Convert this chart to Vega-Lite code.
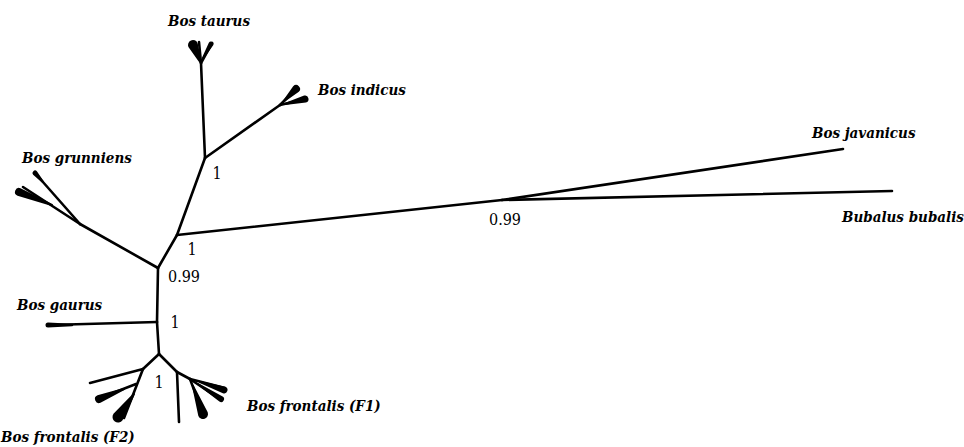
{
  "$schema": "https://vega.github.io/schema/vega-lite/v6.json",
  "width": 964,
  "height": 447,
  "autosize": {"type": "fit", "contains": "padding"},
  "padding": 0,
  "background": "white",
  "config": {"view": {"stroke": null}},
  "datasets": {
    "branches": [
      {"x": 205, "y": 158, "x2": 201, "y2": 63},
      {"x": 205, "y": 158, "x2": 280, "y2": 105},
      {"x": 177, "y": 235, "x2": 205, "y2": 158},
      {"x": 177, "y": 235, "x2": 502, "y2": 200},
      {"x": 502, "y": 200, "x2": 843, "y2": 149},
      {"x": 502, "y": 200, "x2": 892, "y2": 191},
      {"x": 158, "y": 268, "x2": 177, "y2": 235},
      {"x": 158, "y": 268, "x2": 80, "y2": 224},
      {"x": 80, "y": 224, "x2": 35, "y2": 173},
      {"x": 80, "y": 224, "x2": 23, "y2": 187},
      {"x": 158, "y": 268, "x2": 157, "y2": 322},
      {"x": 157, "y": 322, "x2": 50, "y2": 325},
      {"x": 157, "y": 322, "x2": 159, "y2": 354},
      {"x": 159, "y": 354, "x2": 143, "y2": 369},
      {"x": 143, "y": 369, "x2": 90, "y2": 383},
      {"x": 143, "y": 369, "x2": 124, "y2": 418},
      {"x": 136, "y": 384, "x2": 100, "y2": 398},
      {"x": 159, "y": 354, "x2": 177, "y2": 372},
      {"x": 177, "y": 372, "x2": 179, "y2": 422},
      {"x": 177, "y": 372, "x2": 190, "y2": 379},
      {"x": 190, "y": 379, "x2": 225, "y2": 388},
      {"x": 190, "y": 379, "x2": 221, "y2": 400},
      {"x": 190, "y": 379, "x2": 203, "y2": 414},
      {"x": 201, "y": 63, "x2": 212, "y2": 43},
      {"x": 201, "y": 63, "x2": 199, "y2": 42},
      {"x": 280, "y": 105, "x2": 297, "y2": 88},
      {"x": 280, "y": 105, "x2": 306, "y2": 99}
    ],
    "wedges": [
      {"id": "t1", "o": 0, "x": 201, "y": 63, "s": 2},
      {"id": "t1", "o": 1, "x": 193, "y": 45, "s": 10},
      {"id": "t2", "o": 0, "x": 203, "y": 58, "s": 2},
      {"id": "t2", "o": 1, "x": 211, "y": 44, "s": 5},
      {"id": "t3", "o": 0, "x": 284, "y": 101, "s": 2},
      {"id": "t3", "o": 1, "x": 296, "y": 89, "s": 8},
      {"id": "t4", "o": 0, "x": 285, "y": 104, "s": 2},
      {"id": "t4", "o": 1, "x": 305, "y": 99, "s": 7},
      {"id": "t5", "o": 0, "x": 52, "y": 205, "s": 2},
      {"id": "t5", "o": 1, "x": 19, "y": 192, "s": 8},
      {"id": "t6", "o": 0, "x": 43, "y": 182, "s": 2},
      {"id": "t6", "o": 1, "x": 35, "y": 173, "s": 5},
      {"id": "t7", "o": 0, "x": 72, "y": 325, "s": 2.5},
      {"id": "t7", "o": 1, "x": 48, "y": 325, "s": 5},
      {"id": "t8", "o": 0, "x": 124, "y": 389, "s": 2},
      {"id": "t8", "o": 1, "x": 99, "y": 399, "s": 8},
      {"id": "t9", "o": 0, "x": 134, "y": 394, "s": 2},
      {"id": "t9", "o": 1, "x": 118, "y": 417, "s": 11},
      {"id": "t10", "o": 0, "x": 193, "y": 386, "s": 2},
      {"id": "t10", "o": 1, "x": 203, "y": 414, "s": 10},
      {"id": "t11", "o": 0, "x": 200, "y": 382, "s": 2},
      {"id": "t11", "o": 1, "x": 224, "y": 390, "s": 7},
      {"id": "t12", "o": 0, "x": 198, "y": 384, "s": 2},
      {"id": "t12", "o": 1, "x": 221, "y": 399, "s": 6}
    ],
    "species": [
      {"x": 168, "y": 21, "label": "Bos taurus"},
      {"x": 318, "y": 90, "label": "Bos indicus"},
      {"x": 22, "y": 158, "label": "Bos grunniens"},
      {"x": 17, "y": 305, "label": "Bos gaurus"},
      {"x": 1, "y": 437, "label": "Bos frontalis (F2)"},
      {"x": 247, "y": 406, "label": "Bos frontalis (F1)"},
      {"x": 812, "y": 133, "label": "Bos javanicus"},
      {"x": 842, "y": 217, "label": "Bubalus bubalis"}
    ],
    "support": [
      {"x": 217, "y": 174, "label": "1"},
      {"x": 192, "y": 250, "label": "1"},
      {"x": 184, "y": 277, "label": "0.99"},
      {"x": 175, "y": 323, "label": "1"},
      {"x": 159, "y": 383, "label": "1"},
      {"x": 505, "y": 220, "label": "0.99"}
    ]
  },
  "encoding": {
    "x": {"field": "x", "type": "quantitative", "scale": {"domain": [0, 964], "nice": false, "zero": false}, "axis": null},
    "y": {"field": "y", "type": "quantitative", "scale": {"domain": [0, 447], "nice": false, "zero": false, "reverse": true}, "axis": null}
  },
  "layer": [
    {
      "data": {"name": "branches"},
      "mark": {"type": "rule", "color": "black", "strokeWidth": 2.6, "strokeCap": "round"},
      "encoding": {
        "x2": {"field": "x2"},
        "y2": {"field": "y2"}
      }
    },
    {
      "data": {"name": "wedges"},
      "mark": {"type": "trail", "color": "black"},
      "encoding": {
        "detail": {"field": "id", "type": "nominal"},
        "order": {"field": "o", "type": "quantitative"},
        "size": {"field": "s", "type": "quantitative", "scale": null, "legend": null}
      }
    },
    {
      "data": {"name": "species"},
      "mark": {"type": "text", "font": "DejaVu Serif Condensed, DejaVu Serif", "fontSize": 15, "fontWeight": "bold", "fontStyle": "italic", "align": "left", "baseline": "middle", "color": "black"},
      "encoding": {"text": {"field": "label"}}
    },
    {
      "data": {"name": "support"},
      "mark": {"type": "text", "font": "DejaVu Serif Condensed, DejaVu Serif", "fontSize": 16, "align": "center", "baseline": "middle", "color": "black"},
      "encoding": {"text": {"field": "label"}}
    }
  ]
}
